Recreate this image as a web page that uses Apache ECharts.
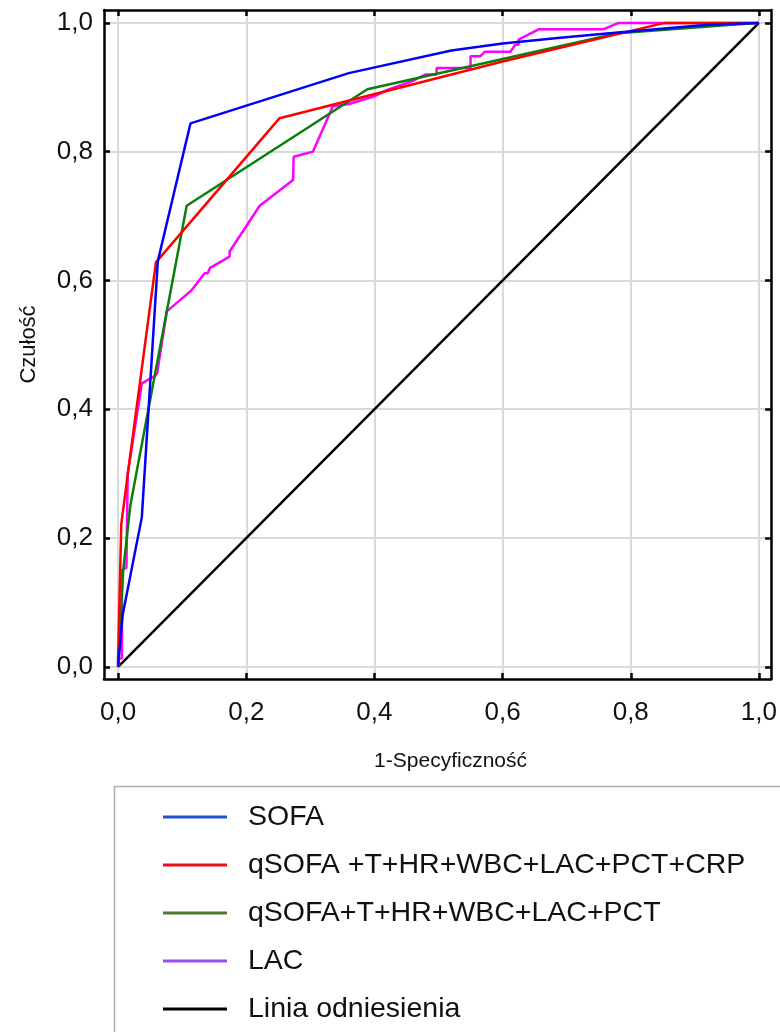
<!DOCTYPE html>
<html>
<head>
<meta charset="utf-8">
<script src="https://cdn.jsdelivr.net/npm/echarts@6/dist/echarts.min.js"></script>
<style>
html,body{margin:0;padding:0;background:#fff;}
#chart{width:780px;height:1032px;}
</style>
</head>
<body>
<div id="chart"></div>
<script>
// ---- data ----
const tickValues = [0, 0.2, 0.4, 0.6, 0.8, 1.0];
const seriesNames = ['SOFA', 'qSOFA +T+HR+WBC+LAC+PCT+CRP', 'qSOFA+T+HR+WBC+LAC+PCT', 'LAC', 'Linia odniesienia'];
const sofa = [[0,0],[0.007,0.08],[0.037,0.232],[0.062,0.63],[0.113,0.844],[0.36,0.922],[0.52,0.957],[0.60,0.968],[0.69,0.977],[0.78,0.985],[0.92,0.997],[1,1]];
const qsofaCrp = [[0,0],[0,0.016],[0.005,0.222],[0.016,0.306],[0.059,0.628],[0.252,0.852],[0.60,0.940],[0.853,1.0],[1,1]];
const qsofaPct = [[0,0],[0.001,0.02],[0.008,0.15],[0.019,0.25],[0.107,0.716],[0.389,0.897],[0.78,0.984],[1,1]];
const lac = [[0,0],[0,0.013],[0.006,0.013],[0.006,0.150],[0.013,0.154],[0.015,0.300],[0.037,0.440],[0.058,0.452],[0.061,0.456],[0.076,0.552],[0.115,0.585],[0.135,0.611],[0.140,0.611],[0.143,0.619],[0.174,0.637],[0.174,0.645],[0.221,0.716],[0.273,0.756],[0.274,0.792],[0.304,0.800],[0.335,0.870],[0.36,0.874],[0.40,0.886],[0.42,0.896],[0.46,0.910],[0.48,0.920],[0.497,0.920],[0.497,0.930],[0.55,0.930],[0.55,0.948],[0.565,0.948],[0.572,0.955],[0.612,0.955],[0.62,0.966],[0.625,0.966],[0.625,0.974],[0.656,0.990],[0.757,0.990],[0.781,1.0],[1,1]];
const reference = [[0,0],[1,1]];

const lineColors = ['#0000ff', '#ff0000', '#0a800a', '#ff00ff', '#000000'];
const legendColors = ['#2050d8', '#e8101a', '#4a7d32', '#9a50ec', '#000000'];
const seriesData = [sofa, qsofaCrp, qsofaPct, lac, reference];

const fmt = v => v.toFixed(1).replace('.', ',');
const FONT = '"Liberation Sans", Arial, sans-serif';

const axisBase = {
  type: 'value', min: -0.022, max: 1.019,
  axisLine: { show: true, onZero: false, lineStyle: { color: '#000', width: 2.5 } },
  axisTick: { show: true, inside: true, length: 6, customValues: tickValues, lineStyle: { color: '#000', width: 2.5 } },
  splitLine: { show: false }
};
const yBase = Object.assign({}, axisBase, { min: -0.019, max: 1.02 });

const chart = echarts.init(document.getElementById('chart'));
chart.setOption({
  animation: false,
  backgroundColor: '#ffffff',
  grid: { left: 104, top: 10, right: 7, bottom: 353, containLabel: false },
  xAxis: [
    Object.assign({}, axisBase, {
      position: 'bottom',
      name: '1-Specyficzność', nameLocation: 'middle', nameGap: 72,
      nameTextStyle: { fontFamily: FONT, fontSize: 21, color: '#111', padding: [0, 0, 0, 26] },
      axisLabel: { show: true, customValues: tickValues, margin: 21, formatter: fmt, fontFamily: FONT, fontSize: 26, color: '#111' },
      splitLine: { show: true, lineStyle: { color: '#d9d9d9', width: 2 } }
    }),
    Object.assign({}, axisBase, { position: 'top', axisLabel: { show: false } })
  ],
  yAxis: [
    Object.assign({}, yBase, {
      position: 'left',
      name: 'Czułość', nameLocation: 'middle', nameGap: 64,
      nameTextStyle: { fontFamily: FONT, fontSize: 22, color: '#111' },
      axisLabel: { show: true, customValues: tickValues, margin: 11, formatter: fmt, fontFamily: FONT, fontSize: 26, color: '#111' },
      splitLine: { show: true, lineStyle: { color: '#d9d9d9', width: 2 } }
    }),
    Object.assign({}, yBase, { position: 'right', axisLabel: { show: false } })
  ],
  legend: {
    orient: 'vertical', left: 158, top: 796,
    icon: 'rect', itemWidth: 64, itemHeight: 3, itemGap: 16,
    textStyle: { fontFamily: FONT, fontSize: 28.5, color: '#111', lineHeight: 32, padding: [0, 0, 0, 16] },
    data: seriesNames.map((n, i) => ({ name: n, itemStyle: { color: legendColors[i] } }))
  },
  graphic: [{
    type: 'rect', left: 112, top: 784, silent: true,
    shape: { width: 700, height: 300 },
    style: { fill: 'none', stroke: '#b0b0b0', lineWidth: 1.5 }
  }],
  series: seriesNames.map((n, i) => ({
    name: n, type: 'line', xAxisIndex: 0, yAxisIndex: 0,
    data: seriesData[i], showSymbol: false, symbol: 'none',
    lineStyle: { color: lineColors[i], width: 2.5 },
    itemStyle: { color: lineColors[i] },
    z: 10 - i
  }))
});
</script>
</body>
</html>
